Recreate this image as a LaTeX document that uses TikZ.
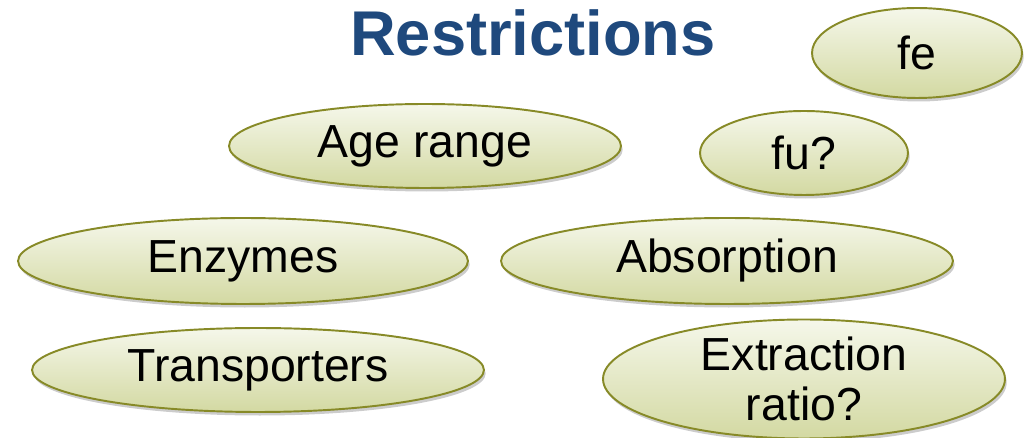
\documentclass[tikz,border=0pt]{standalone}
\usepackage{fontspec}
\setmainfont{Liberation Sans}
\usetikzlibrary{shapes.geometric,shadows}
\definecolor{titleblue}{HTML}{1F497D}
\definecolor{ellborder}{HTML}{878A27}
\definecolor{elltop}{HTML}{F5F7EA}
\definecolor{ellbot}{HTML}{D3D9A2}
\begin{document}
\begin{tikzpicture}[x=0.02cm,y=-0.02cm,
  bubble/.style={ellipse, draw=ellborder, line width=1.1pt, top color=elltop, bottom color=ellbot,
    inner sep=0pt, align=center, font=\fontsize{26.4pt}{28.5pt}\selectfont,
    drop shadow={shadow xshift=1pt, shadow yshift=-2pt, opacity=0.2, fill=black}}]
\useasboundingbox (0,0) rectangle (1025,438);
\node[font=\fontsize{36pt}{40pt}\selectfont\bfseries, text=titleblue] (title) at (533,33) {Restrictions};
\node[bubble, minimum width=4.2cm, minimum height=1.8cm] (fe) at (917,53) {\raisebox{-2pt}{fe}};
\node[bubble, minimum width=7.84cm, minimum height=1.68cm] (age) at (425,146) {\raisebox{-2pt}{Age range}};
\node[bubble, minimum width=4.16cm, minimum height=1.68cm] (fu) at (804,153) {\raisebox{-2pt}{fu?}};
\node[bubble, minimum width=9.0cm, minimum height=1.72cm] (enz) at (243,261) {\raisebox{-2pt}{Enzymes}};
\node[bubble, minimum width=9.04cm, minimum height=1.72cm] (abs) at (727,261) {\raisebox{-2pt}{Absorption}};
\node[bubble, minimum width=9.04cm, minimum height=1.68cm] (trans) at (258,370) {\raisebox{-2pt}{Transporters}};
\node[bubble, minimum width=8.04cm, minimum height=2.3cm] (ext) at (804,379) {Extraction\\ratio?};
\end{tikzpicture}
\end{document}
